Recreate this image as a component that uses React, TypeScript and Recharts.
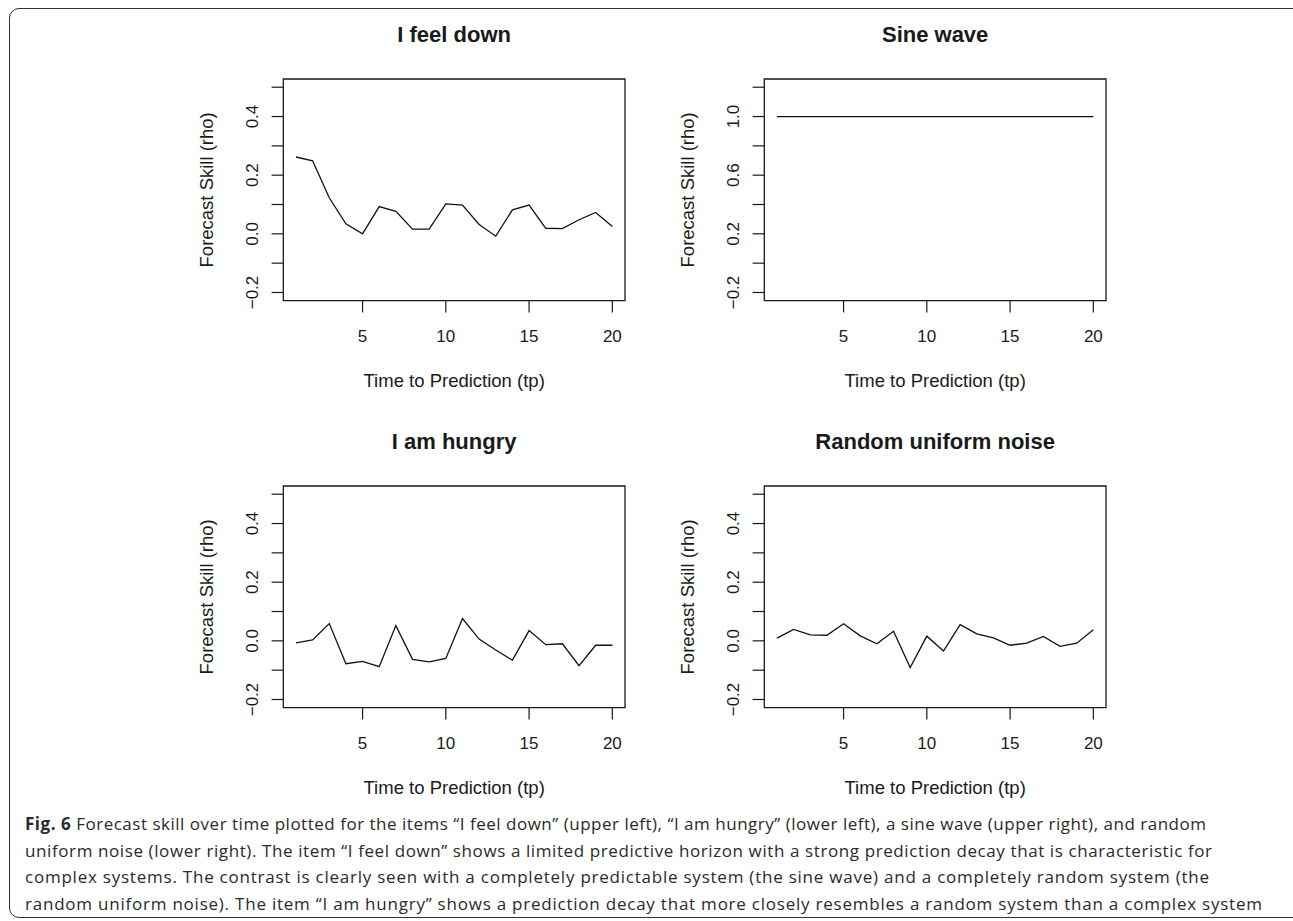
import { LineChart, Line, XAxis, YAxis, ReferenceArea } from "recharts";

// time to prediction (tp)
const TP = [1, 2, 3, 4, 5, 6, 7, 8, 9, 10, 11, 12, 13, 14, 15, 16, 17, 18, 19, 20];

const FEEL_DOWN = [0.262, 0.249, 0.123, 0.034, 0.0, 0.093, 0.077, 0.016, 0.016, 0.102, 0.098, 0.032, -0.008, 0.082, 0.098, 0.019, 0.018, 0.048, 0.073, 0.025];
const SINE_WAVE = [1, 1, 1, 1, 1, 1, 1, 1, 1, 1, 1, 1, 1, 1, 1, 1, 1, 1, 1, 1];
const HUNGRY = [-0.007, 0.003, 0.059, -0.078, -0.07, -0.088, 0.052, -0.063, -0.072, -0.06, 0.076, 0.006, -0.031, -0.066, 0.035, -0.013, -0.01, -0.085, -0.015, -0.015];
const NOISE = [0.009, 0.039, 0.02, 0.019, 0.058, 0.017, -0.01, 0.033, -0.091, 0.016, -0.035, 0.055, 0.024, 0.01, -0.015, -0.008, 0.015, -0.019, -0.008, 0.038];

const X_TICKS = [5, 10, 15, 20];
const RHO_TICKS = [-0.2, -0.1, 0, 0.1, 0.2, 0.3, 0.4, 0.5];
const RHO_LABELS = [-0.2, 0, 0.2, 0.4];
const SINE_TICKS = [-0.2, 0, 0.2, 0.4, 0.6, 0.8, 1.0, 1.2];
const SINE_LABELS = [-0.2, 0.2, 0.6, 1.0];

const CAPTION_LINES = [
  "Forecast skill over time plotted for the items “I feel down” (upper left), “I am hungry” (lower left), a sine wave (upper right), and random",
  "uniform noise (lower right). The item “I feel down” shows a limited predictive horizon with a strong prediction decay that is characteristic for",
  "complex systems. The contrast is clearly seen with a completely predictable system (the sine wave) and a completely random system (the",
  "random uniform noise). The item “I am hungry” shows a prediction decay that more closely resembles a random system than a complex system",
];

const FONT = '"Liberation Sans", Arial, Helvetica, sans-serif';
const INK = "#1a1a1a";

// panel geometry (plot box inside a 480x400 panel)
const W = 480;
const H = 400;
const BOX_L = 123.3;
const BOX_T = 79;
const BOX_W = 341.7;
const BOX_H = 221.7;
const TICK = 11.7;

const fmt = (v: number) => v.toFixed(1).replace("-", "\u2212");

function makeYTick(labels: number[]) {
  return (props: any) => {
    const { x, y, payload } = props;
    const show = labels.some((l) => Math.abs(l - payload.value) < 1e-9);
    if (!show) return <g />;
    return (
      <text x={x} y={y} transform={`rotate(-90 ${x} ${y})`} textAnchor="middle" fontFamily={FONT} fontSize={17} fill={INK}>
        {fmt(payload.value)}
      </text>
    );
  };
}

const XTick = (props: any) => {
  const { x, y, payload } = props;
  return (
    <text x={x} y={y + 29.3} textAnchor="middle" fontFamily={FONT} fontSize={17} fill={INK}>
      {payload.value}
    </text>
  );
};

type PanelProps = {
  title: string;
  values: number[];
  yTicks: number[];
  yLabels: number[];
  left: number;
  top: number;
};

function Panel({ title, values, yTicks, yLabels, left, top }: PanelProps) {
  const data = TP.map((t, i) => ({ tp: t, rho: values[i] }));
  const lo = yTicks[0];
  const hi = yTicks[yTicks.length - 1];
  const pad = (hi - lo) * 0.04;
  const yDomain: [number, number] = [lo - pad, hi + pad];
  const xDomain: [number, number] = [1 - 19 * 0.04, 20 + 19 * 0.04];
  const cx = BOX_L + BOX_W / 2;
  const cy = BOX_T + BOX_H / 2;

  return (
    <div style={{ position: "absolute", left, top, width: W, height: H }}>
      <LineChart width={W} height={H} data={data} margin={{ top: BOX_T, right: W - BOX_L - BOX_W, bottom: H - BOX_T - BOX_H - 40, left: 0 }}>
        <XAxis
          type="number"
          dataKey="tp"
          domain={xDomain}
          ticks={X_TICKS}
          interval={0}
          allowDataOverflow
          axisLine={false}
          tickSize={TICK}
          tickMargin={0}
          tickLine={{ stroke: INK, strokeWidth: 1.2 }}
          tick={XTick}
          height={40}
        />
        <YAxis
          type="number"
          domain={yDomain}
          ticks={yTicks}
          interval={0}
          allowDataOverflow
          axisLine={false}
          tickSize={TICK}
          tickMargin={14}
          tickLine={{ stroke: INK, strokeWidth: 1.2 }}
          tick={makeYTick(yLabels)}
          width={BOX_L}
        />
        <ReferenceArea x1={xDomain[0]} x2={xDomain[1]} y1={yDomain[0]} y2={yDomain[1]} fill="none" fillOpacity={0} stroke={INK} strokeWidth={1.3} ifOverflow="visible" />
        <Line type="linear" dataKey="rho" stroke="#111" strokeWidth={1.3} dot={false} isAnimationActive={false} />
      </LineChart>
      <svg width={W} height={H} style={{ position: "absolute", left: 0, top: 0, pointerEvents: "none" }}>
        <text x={cx} y={41.7} textAnchor="middle" fontFamily={FONT} fontSize={22} fontWeight="bold" fill={INK}>
          {title}
        </text>
        <text x={cx} y={386.7} textAnchor="middle" fontFamily={FONT} fontSize={18.5} fill={INK}>
          Time to Prediction (tp)
        </text>
        <text x={53.3} y={cy} transform={`rotate(-90 53.3 ${cy})`} textAnchor="middle" fontFamily={FONT} fontSize={18.5} fill={INK}>
          Forecast Skill (rho)
        </text>
      </svg>
    </div>
  );
}

const CAPTION_ENDS = [1206, 1212, 1209, 1262];

export default function App() {
  return (
    <div style={{ position: "fixed", left: 0, top: 0, width: 1293, height: 921, overflow: "hidden", background: "#fff" }}>
      <div
        style={{
          position: "absolute",
          left: 9,
          top: 8,
          width: 1320,
          height: 910,
          border: "1.5px solid #333",
          borderRadius: 10,
          boxSizing: "border-box",
        }}
      />
      <Panel title="I feel down" values={FEEL_DOWN} yTicks={RHO_TICKS} yLabels={RHO_LABELS} left={160} top={0} />
      <Panel title="Sine wave" values={SINE_WAVE} yTicks={SINE_TICKS} yLabels={SINE_LABELS} left={640.7} top={0} />
      <Panel title="I am hungry" values={HUNGRY} yTicks={RHO_TICKS} yLabels={RHO_LABELS} left={160} top={407.3} />
      <Panel title="Random uniform noise" values={NOISE} yTicks={RHO_TICKS} yLabels={RHO_LABELS} left={640.7} top={407.3} />
      <svg width={1293} height={921} style={{ position: "absolute", left: 0, top: 0, pointerEvents: "none" }}>
        {CAPTION_LINES.map((line, i) => (
          <text
            key={i}
            x={25}
            y={830 + i * 26.7}
            fontFamily='"Open Sans", "Noto Sans", sans-serif'
            fontSize={17}
            fill="#2a2a2a"
            textLength={CAPTION_ENDS[i] - 25}
            lengthAdjust="spacing"
          >
            {i === 0 ? (
              <>
                <tspan fontWeight="bold">Fig. 6</tspan> {line}
              </>
            ) : (
              line
            )}
          </text>
        ))}
      </svg>
    </div>
  );
}
